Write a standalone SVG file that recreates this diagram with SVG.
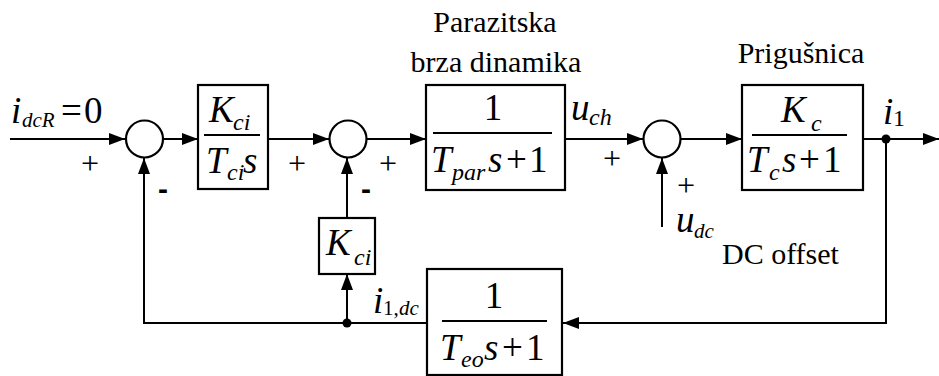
<svg xmlns="http://www.w3.org/2000/svg" width="939" height="376" viewBox="0 0 939 376">
<defs>
<style>
.ln{fill:none;stroke:#000;stroke-width:2}
.bx{fill:#fff;stroke:#000;stroke-width:2.2}
.sj{fill:#fff;stroke:#000;stroke-width:2.2}
.m{font-size:37px;font-style:italic;fill:#000}
.s{font-size:24px}
.s2{font-size:21px}
.up{font-style:normal}
.lbl{font-size:30px;fill:#000}
.pl{font-size:32px;fill:#000;text-anchor:middle}
.mn{font-size:30px;font-weight:bold;fill:#000;text-anchor:middle}
.mid{text-anchor:middle}
</style>
<marker id="ar" markerUnits="userSpaceOnUse" markerWidth="16" markerHeight="12" refX="16" refY="6" orient="auto">
<path d="M0,0 L16,6 L0,12 z" fill="#000"/>
</marker>
</defs>
<rect width="939" height="376" fill="#fff"/>

<g id="connectors">
<line class="ln" x1="10" y1="139" x2="125" y2="139" marker-end="url(#ar)"/>
<line class="ln" x1="163" y1="139" x2="198" y2="139" marker-end="url(#ar)"/>
<line class="ln" x1="268" y1="139" x2="329" y2="139" marker-end="url(#ar)"/>
<line class="ln" x1="367" y1="139" x2="426" y2="139" marker-end="url(#ar)"/>
<line class="ln" x1="565" y1="139" x2="643" y2="139" marker-end="url(#ar)"/>
<line class="ln" x1="681" y1="139" x2="742" y2="139" marker-end="url(#ar)"/>
<line class="ln" x1="863" y1="139" x2="939" y2="139" marker-end="url(#ar)"/>
<polyline class="ln" points="886,139 886,323 563,323" marker-end="url(#ar)"/>
<polyline class="ln" points="427,323 144,323 144,158" marker-end="url(#ar)"/>
<line class="ln" x1="347" y1="323" x2="347" y2="274" marker-end="url(#ar)"/>
<line class="ln" x1="347" y1="218" x2="347" y2="158" marker-end="url(#ar)"/>
<line class="ln" x1="662" y1="227" x2="662" y2="158" marker-end="url(#ar)"/>
<circle cx="886" cy="139" r="4.5" fill="#000"/>
<circle cx="347" cy="323" r="4.5" fill="#000"/>
</g>

<g font-family="'Liberation Serif', 'Times New Roman', serif">
<g id="sum1"><circle class="sj" cx="144.5" cy="139" r="18.5"/></g>
<g id="sum2"><circle class="sj" cx="348" cy="139" r="18.5"/></g>
<g id="sum3"><circle class="sj" cx="662" cy="139" r="18.5"/></g>

<g id="block-kci-tci">
<rect class="bx" x="198" y="85" width="70" height="104"/>
<line class="ln" x1="204" y1="135" x2="260" y2="135"/>
<text class="m" x="209" y="122">K<tspan class="s" x="233" y="130">ci</tspan></text>
<text class="m" x="206" y="173">T<tspan class="s" x="227" y="180">ci</tspan><tspan x="243" y="173">s</tspan></text>
</g>

<g id="block-tpar">
<rect class="bx" x="426" y="85" width="139" height="105"/>
<line class="ln" x1="433" y1="133" x2="552" y2="133"/>
<text class="m up mid" x="493" y="120">1</text>
<text class="m" x="431" y="172">T<tspan class="s" x="452" y="180">par</tspan><tspan x="488" y="172">s</tspan><tspan class="up" x="506" y="172">+</tspan><tspan class="up" x="529" y="172">1</tspan></text>
<text class="lbl mid" x="495" y="32">Parazitska</text>
<text class="lbl mid" x="496" y="72">brza dinamika</text>
</g>

<g id="block-kc">
<rect class="bx" x="742" y="85" width="121" height="105"/>
<line class="ln" x1="752" y1="135" x2="847" y2="135"/>
<text class="m" x="781" y="122">K<tspan class="s" x="811" y="131">c</tspan></text>
<text class="m" x="747" y="172">T<tspan class="s" x="769" y="180">c</tspan><tspan x="782" y="172">s</tspan><tspan class="up" x="799" y="172">+</tspan><tspan class="up" x="823" y="172">1</tspan></text>
<text class="lbl mid" x="801" y="63">Prigušnica</text>
</g>

<g id="block-kci">
<rect class="bx" x="319" y="218" width="56" height="56"/>
<text class="m" x="326" y="255">K<tspan class="s" x="354" y="265">ci</tspan></text>
</g>

<g id="block-teo">
<rect class="bx" x="427" y="269" width="135" height="106"/>
<line class="ln" x1="442" y1="321" x2="547" y2="321"/>
<text class="m up mid" x="494" y="308">1</text>
<text class="m" x="440" y="360">T<tspan class="s" x="461" y="367">eo</tspan><tspan x="484" y="360">s</tspan><tspan class="up" x="502" y="360">+</tspan><tspan class="up" x="526" y="360">1</tspan></text>
</g>

<g id="labels">
<text class="m" x="11" y="123">i<tspan class="s2" x="22" y="127">dcR</tspan><tspan class="up" x="61" y="123">=</tspan><tspan class="up" x="84" y="123">0</tspan></text>
<text class="m" x="571" y="120">u<tspan class="s" x="589" y="125">ch</tspan></text>
<text class="m" x="883" y="124">i<tspan class="s up" x="893" y="126">1</tspan></text>
<text class="m" x="373" y="313">i<tspan class="s2 up" x="383" y="315">1,</tspan><tspan class="s2" x="399" y="315">dc</tspan></text>
<text class="m" x="676" y="232">u<tspan class="s2" x="694" y="238">dc</tspan></text>
<text class="lbl" x="722" y="264">DC offset</text>
<text class="pl" x="90" y="174">+</text>
<text class="pl" x="297" y="174">+</text>
<text class="pl" x="388" y="174">+</text>
<text class="pl" x="612" y="169">+</text>
<text class="pl" x="686" y="196">+</text>
<text class="mn" x="163" y="199" font-family="'Liberation Sans', Arial, sans-serif">-</text>
<text class="mn" x="366" y="199" font-family="'Liberation Sans', Arial, sans-serif">-</text>
</g>
</g>
</svg>
